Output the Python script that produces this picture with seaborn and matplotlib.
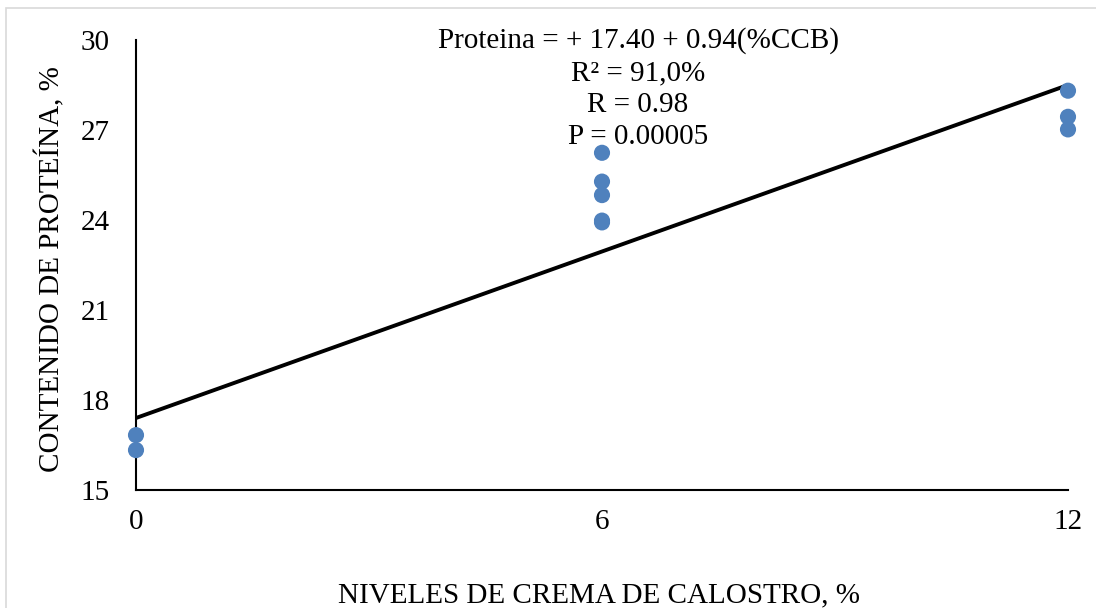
import numpy as np
import pandas as pd
import seaborn as sns
import matplotlib.pyplot as plt
from matplotlib.patches import Rectangle

# datos
niveles = [0, 0, 6, 6, 6, 6, 6, 12, 12, 12]
proteina = [16.83, 16.33, 26.24, 25.28, 24.83, 23.98, 23.92, 28.31, 27.44, 27.02]
# linea de tendencia tal como se ve (extremos 17.4 y 28.5)
intercepto = 17.40
pendiente = 0.925
x_ticks = [0, 6, 12]
y_ticks = [15, 18, 21, 24, 27, 30]
texto_eq = ['Proteina = + 17.40 + 0.94(%CCB)', 'R² = 91,0%', 'R = 0.98', 'P = 0.00005']

sns.set_theme(style='white')
plt.rcParams['font.family'] = ['Liberation Serif', 'DejaVu Serif']

df = pd.DataFrame({'nivel': niveles, 'proteina': proteina})
xl = np.array([0, 12])
df_lin = pd.DataFrame({'nivel': xl, 'ajuste': intercepto + pendiente * xl})

fig = plt.figure(figsize=(10.96, 6.08), dpi=100)
ax = fig.add_axes([136/1096, 118/608, 932/1096, 450/608])

sns.lineplot(data=df_lin, x='nivel', y='ajuste', color='black', linewidth=2.8, ax=ax)
sns.scatterplot(data=df, x='nivel', y='proteina', color='#4F81BD', s=135,
                edgecolor='none', ax=ax, zorder=3, clip_on=False)

ax.set_xlim(0, 12)
ax.set_ylim(15, 30)
ax.set_xticks(x_ticks)
ax.set_yticks(y_ticks)
ax.tick_params(axis='both', length=0, labelsize=21, colors='black')
ax.tick_params(axis='x', pad=14)
ax.tick_params(axis='y', pad=19)
for s in ['top', 'right']:
    ax.spines[s].set_visible(False)
for s in ['left', 'bottom']:
    ax.spines[s].set_color('black')
    ax.spines[s].set_linewidth(1.5)

ax.set_xlabel('NIVELES DE CREMA DE CALOSTRO, %', fontsize=21, color='black', va='center')
ax.set_ylabel('CONTENIDO DE PROTEÍNA, %', fontsize=21, color='black', va='center')
ax.xaxis.set_label_coords((599 - 136) / 932, (490 - 595) / 450)
ax.yaxis.set_label_coords((50 - 136) / 932, (490 - 269) / 450)

for i, t in enumerate(texto_eq):
    fig.text(638/1096, 1 - (41 + 32*i)/608, t, ha='center', va='center', fontsize=21, color='black')

fig.patches.append(Rectangle((6/1096, -0.01), 1.0, 1 - 8/608 + 0.01, transform=fig.transFigure,
                             fill=False, edgecolor='#D9D9D9', linewidth=1.2))

fig.savefig('out.png', dpi=100)
